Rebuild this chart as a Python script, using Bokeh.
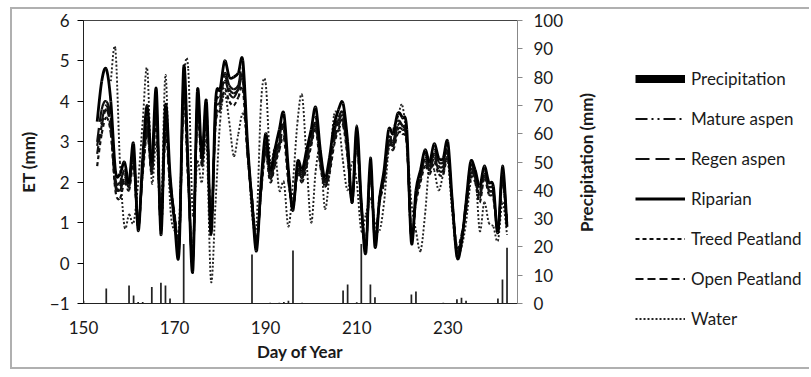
import math
from bokeh.plotting import figure
from bokeh.layouts import row
from bokeh.models import Range1d, LinearAxis, Legend, LegendItem, FixedTicker, Label
from bokeh.embed import file_html
from bokeh.resources import INLINE

NaN = float("nan")

days = list(range(153, 244))

riparian = [3.5, 4.5, 4.8, 4.0, 2.3, 2.2, 2.5, 2.0, 2.95, 0.8,
            2.6, 3.9, 2.5, 4.3, 0.7, 3.9, 2.2, 1.0, 0.3, 4.85,
            2.3, -0.2, 4.25, 2.6, 4.0, 0.7, 4.0, 4.3, 5.0, 4.6,
            4.6, 4.7, 5.0, 3.0, 1.5, 0.3, 2.0, 3.2, 2.3, 2.8,
            3.3, 3.7, 2.3, 1.3, 2.5, 2.3, 2.8, 3.3, 3.85, 2.8,
            2.1, 2.6, 3.4, 3.8, 3.95, 3.0, 1.5, 3.4, 1.5, 0.25,
            2.6, 0.4, 1.6, 2.3, 3.3, 3.2, 3.7, 3.6, 3.3, 0.5,
            1.8, 2.3, 2.8, 2.5, 2.95, 2.6, 2.6, 3.0, 1.5, 0.15,
            0.5, 1.5, 2.5, 2.3, 1.9, 2.4, 2.0, 1.9, 0.75, 2.4,
            0.9]

mature_aspen = [2.9, 3.5, 3.9, 3.4, 2.0, 1.8, 2.1, 1.9, 2.5, 0.9,
                2.3, 3.3, 2.3, 3.7, 0.8, 3.4, 2.0, 1.1, 0.5, 4.2,
                2.1, 0.1, 3.8, 2.5, 3.6, 0.9, 3.5, 3.9, 4.5, 4.2,
                4.1, 4.3, 4.5, 2.8, 1.5, 0.5, 1.8, 2.8, 2.1, 2.5,
                2.9, 3.3, 2.1, 1.4, 2.3, 2.1, 2.5, 3.0, 3.4, 2.5,
                1.9, 2.3, 3.0, 3.4, 3.5, 2.7, 1.5, 3.0, 1.4, 0.4,
                2.3, 0.6, 1.5, 2.1, 3.0, 2.9, 3.3, 3.3, 3.0, 0.6,
                1.6, 2.1, 2.5, 2.3, 2.6, 2.3, 2.3, 2.7, 1.4, 0.3,
                0.6, 1.4, 2.2, 2.1, 1.6, 2.2, 1.8, 1.7, 0.8, 2.1,
                0.9]

regen_aspen = [3.0, 3.8, 4.0, 3.6, 2.1, 2.0, 2.3, 2.0, 2.7, 1.0,
               2.4, 3.6, 2.4, 3.9, 0.9, 3.6, 2.1, 1.2, 0.5, 4.5,
               2.2, 0.0, 4.0, 2.6, 3.8, 0.8, 3.8, 4.1, 4.7, 4.4,
               4.3, 4.4, 4.8, 2.9, 1.6, 0.5, 1.9, 3.0, 2.2, 2.6,
               3.1, 3.5, 2.2, 1.4, 2.4, 2.2, 2.7, 3.1, 3.6, 2.7,
               2.0, 2.5, 3.2, 3.6, 3.7, 2.8, 1.6, 3.2, 1.5, 0.4,
               2.4, 0.5, 1.6, 2.2, 3.1, 3.0, 3.5, 3.4, 3.1, 0.6,
               1.7, 2.2, 2.7, 2.4, 2.8, 2.5, 2.5, 2.8, 1.5, 0.3,
               0.6, 1.5, 2.4, 2.2, 1.8, 2.3, 1.9, 1.8, 0.8, 2.2,
               1.0]

treed_peatland = [2.4, 3.2, 3.6, 3.2, 1.8, 1.6, 2.0, 1.8, 2.4, 1.0,
                  2.2, 3.2, 2.2, 3.5, 1.0, 3.2, 1.9, 1.2, 0.6, 4.0,
                  2.0, 0.2, 3.6, 2.4, 3.4, 1.0, 3.4, 3.8, 4.3, 4.0,
                  3.9, 4.1, 4.3, 2.7, 1.6, 0.6, 1.8, 2.7, 2.0, 2.4,
                  2.8, 3.1, 2.0, 1.5, 2.2, 2.0, 2.4, 2.9, 3.3, 2.4,
                  1.9, 2.2, 2.9, 3.3, 3.4, 2.6, 1.6, 2.9, 1.4, 0.5,
                  2.2, 0.7, 1.5, 2.0, 2.9, 2.8, 3.2, 3.2, 2.9, 0.7,
                  1.5, 2.0, 2.4, 2.2, 2.5, 2.2, 2.2, 2.6, 1.4, 0.4,
                  0.7, 1.3, 2.1, 2.0, 1.5, 2.1, 1.7, 1.6, 0.8, 2.0,
                  0.9]

open_peatland = [2.7, 3.4, 3.8, 3.3, 1.9, 1.9, 2.2, 1.9, 2.6, 0.9,
                 2.3, 3.4, 2.3, 3.8, 0.9, 3.5, 2.0, 1.1, 0.4, 4.3,
                 2.1, 0.1, 3.9, 2.5, 3.7, 0.9, 3.6, 4.0, 4.6, 4.3,
                 4.2, 4.3, 4.6, 2.8, 1.5, 0.5, 1.8, 2.9, 2.1, 2.5,
                 3.0, 3.4, 2.1, 1.4, 2.3, 2.1, 2.6, 3.0, 3.5, 2.6,
                 2.0, 2.4, 3.1, 3.5, 3.6, 2.7, 1.5, 3.1, 1.4, 0.4,
                 2.3, 0.6, 1.6, 2.1, 3.0, 2.9, 3.4, 3.4, 3.0, 0.6,
                 1.6, 2.1, 2.6, 2.3, 2.7, 2.4, 2.4, 2.7, 1.5, 0.3,
                 0.6, 1.4, 2.3, 2.1, 1.7, 2.2, 1.8, 1.7, 0.8, 2.1,
                 0.9]

water = [NaN, NaN, NaN, 4.5, 5.3, 2.5, 0.9, 1.2, 1.0, 2.0,
         3.5, 4.8, 2.0, 3.0, 1.2, 4.65, 1.5, 0.8, 1.0, 4.4,
         4.8, 1.2, 2.5, 2.0, 3.0, -0.45, 1.5, 3.5, 4.2, 3.5,
         2.65, 3.2, 3.7, 3.0, 1.2, 1.0, 4.0, 4.45, 2.5, 2.8,
         1.8, 2.0, 0.9, 2.0, 3.5, 4.15, 2.5, 1.0, 2.3, 2.8,
         1.35, 2.2, 3.65, 3.5, 2.5, 1.8, 2.5, 2.0, 0.8, 1.2,
         1.6, 1.0, 0.8, 1.5, 2.8, 3.3, 3.6, 3.9, 3.0, 1.5,
         0.8, 0.3, 1.2, 2.5, 2.3, 1.8, 2.2, 2.5, 1.2, 0.2,
         0.4, 1.0, 2.0, 2.3, 0.8, 1.5, 1.0, 0.9, 0.55, 1.5,
         0.7]

precip_days = [150, 155, 160, 161, 162, 163, 165, 167, 168, 169, 172,
               187, 191, 193, 194, 195, 196, 198, 207, 208, 210, 211,
               213, 214, 222, 223, 229, 232, 233, 234, 241, 242, 243]
precip_mm = [1.0, 5.3, 6.4, 2.8, 0.5, 0.5, 5.8, 7.3, 6.4, 1.8, 21.0,
             17.3, 0.3, 0.3, 0.5, 1.0, 18.7, 0.3, 4.6, 6.7, 0.4, 21.0,
             6.7, 2.2, 3.2, 4.2, 0.3, 1.5, 2.0, 1.0, 1.8, 8.5, 19.7]

x_ticks = [150, 170, 190, 210, 230]
et_ticks = [-1, 0, 1, 2, 3, 4, 5, 6]
precip_ticks = [0, 10, 20, 30, 40, 50, 60, 70, 80, 90, 100]

FONT = "Lato"
TXT = "#1a1a1a"


def smooth(xs, ys):
    """Bezier segments (Catmull-Rom style, like a spreadsheet 'smoothed line')."""
    pts = [(x, y) for x, y in zip(xs, ys) if not math.isnan(y)]
    n = len(pts)
    d = dict(x0=[], y0=[], x1=[], y1=[], cx0=[], cy0=[], cx1=[], cy1=[])
    for i in range(n - 1):
        a = pts[i - 1] if i > 0 else pts[i]
        b = pts[i]
        c = pts[i + 1]
        e = pts[i + 2] if i + 2 < n else pts[i + 1]
        d["x0"].append(b[0]); d["y0"].append(b[1])
        d["x1"].append(c[0]); d["y1"].append(c[1])
        d["cx0"].append(b[0] + (c[0] - a[0]) / 6.0)
        d["cy0"].append(b[1] + (c[1] - a[1]) / 6.0)
        d["cx1"].append(c[0] - (e[0] - b[0]) / 6.0)
        d["cy1"].append(c[1] - (e[1] - b[1]) / 6.0)
    return d


W1, W2, H = 564, 233, 358

p = figure(width=W1, height=H, title=None,
           x_range=Range1d(150, 245.3), y_range=Range1d(-1, 6),
           output_backend="svg", toolbar_location=None,
           min_border_left=71, min_border_right=W1 - 505,
           min_border_top=11, min_border_bottom=64)
p.extra_y_ranges = {"precip": Range1d(0, 100)}
p.xgrid.visible = False
p.ygrid.visible = False
p.outline_line_color = "#444444"
p.outline_line_width = 1
p.background_fill_color = "white"
p.border_fill_color = "white"

xa = p.xaxis[0]
xa.ticker = FixedTicker(ticks=x_ticks)
xa.axis_label = "Day of Year"
xa.major_tick_out = 0
xa.major_tick_in = 0
xa.minor_tick_out = 0
xa.minor_tick_in = 0
xa.major_label_standoff = 17
xa.axis_label_standoff = 4

ya = p.yaxis[0]
ya.ticker = FixedTicker(ticks=et_ticks)
ya.axis_label = "ET (mm)"
ya.major_tick_out = 6
ya.major_tick_in = 0
ya.minor_tick_out = 0
ya.minor_tick_in = 0
ya.major_label_standoff = 8
ya.axis_label_standoff = 8

ra = LinearAxis(y_range_name="precip", ticker=FixedTicker(ticks=precip_ticks))
ra.major_tick_out = 5
ra.major_tick_in = 0
ra.minor_tick_out = 0
ra.minor_tick_in = 0
ra.major_label_standoff = 11
ra.axis_line_color = "#888888"
ra.major_tick_line_color = "#888888"
p.add_layout(ra, "right")

for ax in (xa, ya, ra):
    ax.major_label_text_font = FONT
    ax.major_label_text_font_size = "17px"
    ax.major_label_text_color = TXT
    ax.axis_label_text_font = FONT
    ax.axis_label_text_font_size = "17px"
    ax.axis_label_text_font_style = "bold"
    ax.axis_label_text_color = TXT
xa.axis_line_color = "#222222"
ya.axis_line_color = "#222222"

# precipitation bars
p.vbar(x=precip_days, top=precip_mm, bottom=0, width=0.38,
       y_range_name="precip", fill_color="#222222", line_color=None)

styles = [
    ("Water", water, dict(line_color="#222222", line_width=1.9, line_dash="2 2")),
    ("Treed Peatland", treed_peatland, dict(line_color="#111111", line_width=2.2, line_dash="4 3")),
    ("Open Peatland", open_peatland, dict(line_color="#111111", line_width=2.2, line_dash="8 4")),
    ("Mature aspen", mature_aspen, dict(line_color="#111111", line_width=2.2, line_dash="12 4 2 4 2 4")),
    ("Regen aspen", regen_aspen, dict(line_color="#111111", line_width=2.2, line_dash="14 6")),
    ("Riparian", riparian, dict(line_color="#000000", line_width=2.8)),
]
for name, vals, st in styles:
    seg = smooth(days, vals)
    p.bezier(x0="x0", y0="y0", x1="x1", y1="y1", cx0="cx0", cy0="cy0",
             cx1="cx1", cy1="cy1", source=seg, **st)

# right-hand panel: secondary axis title + legend
p2 = figure(width=W2, height=H, title=None, output_backend="svg", toolbar_location=None,
            x_axis_type=None, y_axis_type=None,
            min_border_left=0, min_border_right=0, min_border_top=0, min_border_bottom=0,
            x_range=Range1d(0, W2), y_range=Range1d(0, H))
p2.xgrid.visible = False
p2.ygrid.visible = False
p2.outline_line_color = None
p2.background_fill_color = "white"
p2.border_fill_color = "white"

# keep the two panels' frames independent
for fig in (p, p2):
    try:
        fig.frame_align = False
    except AttributeError:
        pass

p2.add_layout(Label(x=10, y=H - 153, text="Precipitation (mm)", angle=math.pi / 2,
                    text_align="center", text_baseline="middle",
                    text_font=FONT, text_font_size="17px", text_font_style="bold",
                    text_color=TXT))

# legend swatches: renderers whose data lie outside the visible range
off_x = [-100, -90]
off_y = [-100, -90]
leg_r = {}
leg_r["Precipitation"] = p2.line(off_x, off_y, line_color="#000000", line_width=8)
for name, vals, st in styles:
    leg_r[name] = p2.line(off_x, off_y, **st)

order = ["Precipitation", "Mature aspen", "Regen aspen", "Riparian",
         "Treed Peatland", "Open Peatland", "Water"]
items = [LegendItem(label=n, renderers=[leg_r[n]]) for n in order]
legend = Legend(items=items, location=(59, 38), padding=0, margin=0,
                spacing=19, glyph_width=50, glyph_height=21, label_height=21,
                label_standoff=6, border_line_color=None,
                background_fill_alpha=0,
                label_text_font=FONT, label_text_font_size="17px",
                label_text_color=TXT)
p2.add_layout(legend)

lay = row(p, p2)
lay.margin = (7, 0, 0, 10)
lay.styles = {"border-left": "2px solid #b0b0b0", "border-top": "2px solid #b0b0b0",
              "border-bottom": "2px solid #b0b0b0"}

open("out.html", "w").write(file_html(lay, INLINE))
